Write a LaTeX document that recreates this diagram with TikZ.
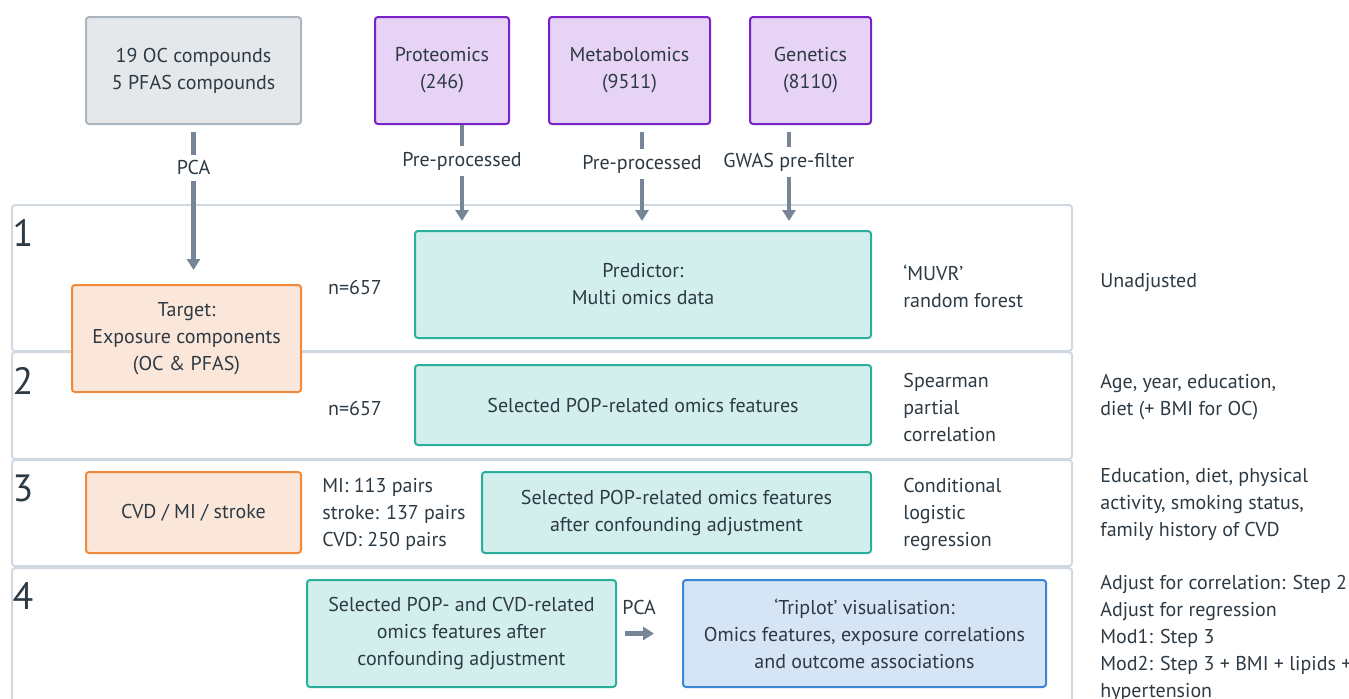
\documentclass[tikz,border=0pt]{standalone}
\usepackage{fontspec}
\setmainfont{PT Sans}
\usetikzlibrary{arrows.meta,positioning}
\definecolor{ink}{RGB}{45,58,68}
\definecolor{slate}{RGB}{118,134,150}
\definecolor{panel}{RGB}{208,217,226}
\definecolor{greyline}{RGB}{170,181,191}
\definecolor{greyfill}{RGB}{229,232,235}
\definecolor{purpline}{RGB}{122,34,201}
\definecolor{purpfill}{RGB}{230,211,245}
\definecolor{tealline}{RGB}{42,176,154}
\definecolor{tealfill}{RGB}{211,239,237}
\definecolor{orgline}{RGB}{239,138,60}
\definecolor{orgfill}{RGB}{251,230,218}
\definecolor{blueline}{RGB}{58,134,216}
\definecolor{bluefill}{RGB}{213,229,245}
\tikzset{
  >={Triangle[length=5.5pt,width=6.5pt]},
  box/.style={draw=#1line,fill=#1fill,line width=1pt,rounded corners=1.5pt,
    align=center,inner sep=0pt},
  box/.default=teal,
  flow/.style={->,draw=slate,line width=2.2pt},
  lbl/.style={fill=white,inner sep=3pt},
  note/.style={anchor=west,align=left,inner sep=0pt},
  stepno/.style={font=\fontsize{19}{20}\selectfont,inner sep=0pt},
  panelbox/.style={draw=panel,line width=1pt,rounded corners=1.5pt},
}

\begin{document}
\begin{tikzpicture}[x=0.5pt,y=-0.5pt,
    every node/.style={font=\fontsize{10}{13.5}\selectfont,text=ink}]
  \useasboundingbox (0,0) rectangle (1349,698);
  % step panels
  \draw[panelbox] (12,205) rectangle (1072,351);
  \draw[panelbox] (12,352) rectangle (1072,459);
  \draw[panelbox] (12,460) rectangle (1072,566);
  \draw[panelbox] (12,568) rectangle (1072,720);
  \node[stepno] (s1) at (23,233) {1};
  \node[stepno] (s2) at (23,381) {2};
  \node[stepno] (s3) at (23,488) {3};
  \node[stepno] (s4) at (23,596) {4};

  % data sources
  \node[box=grey,minimum width=107.5pt,minimum height=53.5pt] (pop) at (193.5,70.5)
    {19 OC compounds\\5 PFAS compounds};
  \node[box=purp,minimum width=67pt,minimum height=53.5pt] (prot) at (442,70.5)
    {Proteomics\\(246)};
  \node[box=purp,minimum width=80.5pt,minimum height=53.5pt] (metab) at (629.5,70.5)
    {Metabolomics\\(9511)};
  \node[box=purp,minimum width=60.5pt,minimum height=53.5pt] (gen) at (810.5,70.5)
    {Genetics\\(8110)};

  % step 1
  \node[box=org,minimum width=114.5pt,minimum height=53.5pt] (target) at (186.5,338.5)
    {Target:\\Exposure components\\(OC \& PFAS)};
  \node[box,minimum width=228pt,minimum height=53.5pt] (pred) at (643,284.5)
    {Predictor:\\Multi omics data};
  \node[inner sep=0pt] (n1) at (355,287) {n=657};
  \node[note] (m1) at (903,286.5) {`MUVR'\\random forest};
  \node[note] (a1) at (1100,283) {Unadjusted};

  % step 2
  \node[box,minimum width=228pt,minimum height=40pt] (sel2) at (643,405)
    {Selected POP-related omics features};
  \node[inner sep=0pt] (n2) at (355,408) {n=657};
  \node[note] (m2) at (903,407.5) {Spearman\\partial\\correlation};
  \node[note] (a2) at (1100,397.5) {Age, year, education,\\diet (+ BMI for OC)};

  % step 3
  \node[box=org,minimum width=107.5pt,minimum height=40.5pt] (cvd) at (193.5,512.5)
    {CVD / MI / stroke};
  \node[note] (pairs) at (322,514) {MI: 113 pairs\\stroke: 137 pairs\\CVD: 250 pairs};
  \node[box,minimum width=194.5pt,minimum height=40.5pt] (sel3) at (676.5,512.5)
    {Selected POP-related omics features\\after confounding adjustment};
  \node[note] (m3) at (903,514.5) {Conditional\\logistic\\regression};
  \node[note] (a3) at (1100,504) {Education, diet, physical\\activity, smoking status,\\family history of CVD};

  % step 4
  \node[box,minimum width=154.5pt,minimum height=53.5pt] (sel4) at (461.5,633.5)
    {Selected POP- and CVD-related\\omics features after\\confounding adjustment};
  \node[box=blue,minimum width=181.5pt,minimum height=53.5pt] (trip) at (864.5,633.5)
    {`Triplot' visualisation:\\Omics features, exposure correlations\\and outcome associations};
  \node[note] (a4) at (1100,638) {Adjust for correlation: Step 2\\Adjust for regression\\Mod1: Step 3\\Mod2: Step 3 + BMI + lipids +\\hypertension};

  % connectors
  \draw[flow,shorten <=3.5pt,shorten >=7pt] (pop.south) -- node[lbl,pos=0.27] {PCA} (pop.south |- target.north);
  \draw[flow,shorten >=4.5pt] ([xshift=10pt]prot.south) coordinate (p0)
    -- node[lbl,pos=0.346] {Pre-processed} (p0 |- pred.north);
  \draw[flow,shorten <=3.5pt,shorten >=4.5pt] ([xshift=6.25pt]metab.south) coordinate (m0)
    -- node[lbl,pos=0.374] {Pre-processed} (m0 |- pred.north);
  \draw[flow,shorten <=3.5pt,shorten >=4.5pt] ([xshift=-10.75pt]gen.south) coordinate (g0)
    -- node[lbl,pos=0.355] {GWAS pre-filter} (g0 |- pred.north);
  \draw[flow,shorten <=4pt,shorten >=14pt] (sel4) -- node[pos=0.34,yshift=13pt,inner sep=0pt] {PCA} (trip);
\end{tikzpicture}
\end{document}
